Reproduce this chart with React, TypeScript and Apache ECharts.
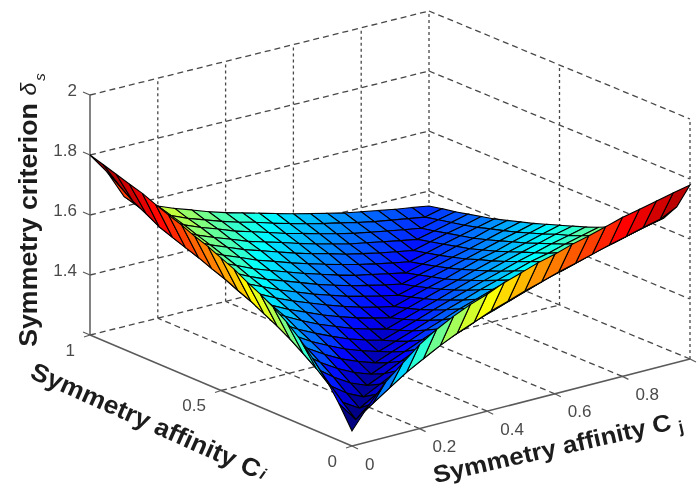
import React, { useEffect, useRef } from "react";
import * as echarts from "echarts";

// Surface heights. Row m holds z where the larger affinity is m/20
// and the smaller is k/20 (k = 0..m); the front right edge is k = 0.
const surfaceByLarger: number[][] = [
  [1.25],
  [1.322, 1.255],
  [1.385, 1.294, 1.26],
  [1.433, 1.332, 1.292, 1.265],
  [1.48, 1.369, 1.327, 1.293, 1.27],
  [1.516, 1.4, 1.357, 1.323, 1.295, 1.275],
  [1.545, 1.43, 1.386, 1.352, 1.322, 1.299, 1.28],
  [1.57, 1.456, 1.41, 1.376, 1.348, 1.322, 1.302, 1.285],
  [1.59, 1.478, 1.431, 1.398, 1.371, 1.346, 1.323, 1.305, 1.29],
  [1.614, 1.501, 1.455, 1.423, 1.394, 1.368, 1.346, 1.325, 1.309, 1.295],
  [1.632, 1.519, 1.473, 1.441, 1.413, 1.39, 1.366, 1.346, 1.328, 1.313, 1.3],
  [1.651, 1.539, 1.492, 1.461, 1.433, 1.409, 1.388, 1.367, 1.348, 1.331, 1.317, 1.305],
  [1.665, 1.555, 1.511, 1.477, 1.452, 1.427, 1.406, 1.385, 1.367, 1.349, 1.335, 1.322, 1.31],
  [1.683, 1.573, 1.532, 1.495, 1.468, 1.444, 1.425, 1.405, 1.385, 1.368, 1.352, 1.339, 1.326, 1.315],
  [1.697, 1.588, 1.546, 1.51, 1.486, 1.461, 1.441, 1.422, 1.403, 1.386, 1.369, 1.354, 1.343, 1.331, 1.32],
  [1.713, 1.604, 1.562, 1.527, 1.502, 1.48, 1.457, 1.439, 1.42, 1.403, 1.387, 1.372, 1.358, 1.346, 1.335, 1.325],
  [1.73, 1.62, 1.58, 1.544, 1.518, 1.496, 1.474, 1.456, 1.438, 1.42, 1.404, 1.39, 1.374, 1.362, 1.35, 1.34, 1.33],
  [1.742, 1.634, 1.593, 1.559, 1.532, 1.51, 1.49, 1.469, 1.453, 1.437, 1.42, 1.404, 1.39, 1.376, 1.366, 1.355, 1.345, 1.335],
  [1.755, 1.649, 1.608, 1.574, 1.548, 1.525, 1.506, 1.485, 1.469, 1.452, 1.435, 1.421, 1.406, 1.392, 1.379, 1.369, 1.359, 1.349, 1.34],
  [1.768, 1.662, 1.622, 1.588, 1.561, 1.537, 1.518, 1.499, 1.482, 1.468, 1.451, 1.436, 1.421, 1.408, 1.396, 1.383, 1.372, 1.363, 1.354, 1.345],
  [1.78, 1.69, 1.634, 1.599, 1.574, 1.552, 1.533, 1.513, 1.496, 1.481, 1.466, 1.451, 1.436, 1.423, 1.41, 1.397, 1.387, 1.377, 1.367, 1.359, 1.35],
];
// The left front edge (Cj = 0), for Ci = 0/20 .. 20/20, rises a little higher than the right one.
const leftEdge: number[] = [1.25, 1.323, 1.387, 1.436, 1.484, 1.521, 1.551, 1.577, 1.598, 1.623, 1.642, 1.662, 1.677, 1.696, 1.711, 1.728, 1.746, 1.759, 1.773, 1.787, 1.8];
// The second row on that side (Cj = 1/20) stays close to the edge near the corner, Ci = 17/20 .. 20/20.
const leftInnerNearCorner: number[] = [1.645, 1.668, 1.7, 1.73];

const zTicks = [1.2, 1.4, 1.6, 1.8, 2];
const zTickLabels = ["", "1.4", "1.6", "1.8", "2"];
const ciTicks = [0, 0.5, 1];
const ciTickLabels = ["0", "0.5", "1"];
const cjTicks = [0, 0.2, 0.4, 0.6, 0.8, 1];
const cjTickLabels = ["0", "0.2", "0.4", "0.6", "0.8", ""];
const zMin = 1.2;
const zMax = 2;
const colourMin = 1.25;
const colourMax = 1.8;
const cells = 20;

const zAt = (i: number, j: number) => {
  if (j === 0) return leftEdge[i];
  if (j === 1 && i >= 17) return leftInnerNearCorner[i - 17];
  return i <= j ? surfaceByLarger[j][i] : surfaceByLarger[i][j];
};

// 3-D view of the box onto the page
const project = (ci: number, cj: number, z: number): [number, number] => [
  352 + 338 * cj - 262 * ci + ci * cj,
  446 - 87 * cj - 111 * ci + 3 * ci * cj - (z - zMin) * 300,
];

const clamp = (v: number) => Math.max(0, Math.min(1, v));
const jet = (z: number) => {
  const c = clamp((z - colourMin) / (colourMax - colourMin));
  const r = clamp(Math.min(4 * c - 1.5, -4 * c + 4.5));
  const g = clamp(Math.min(4 * c - 0.5, -4 * c + 3.5));
  const b = clamp(Math.min(4 * c + 0.5, -4 * c + 2.5));
  return `rgb(${Math.round(r * 255)},${Math.round(g * 255)},${Math.round(b * 255)})`;
};

type Seg = { a: [number, number, number]; b: [number, number, number] };
const wallsH: Seg[] = [];
const wallsV: Seg[] = [];
zTicks.forEach((z) => {
  if (z > zMin) {
    wallsH.push({ a: [1, 0, z], b: [1, 1, z] });
    wallsH.push({ a: [1, 1, z], b: [0, 1, z] });
  }
});
cjTicks.forEach((cj) => {
  if (cj > 0) wallsV.push({ a: [1, cj, zMin], b: [1, cj, zMax] });
  if (cj > 0) wallsH.push({ a: [0, cj, zMin], b: [1, cj, zMin] });
});
ciTicks.forEach((ci) => {
  if (ci < 1) wallsV.push({ a: [ci, 1, zMin], b: [ci, 1, zMax] });
  if (ci > 0) wallsH.push({ a: [ci, 0, zMin], b: [ci, 1, zMin] });
});
const axesLines: Seg[] = [
  { a: [1, 0, zMin], b: [1, 0, zMax] },
  { a: [0, 0, zMin], b: [1, 0, zMin] },
  { a: [0, 0, zMin], b: [0, 1, zMin] },
];

const FONT = '"Liberation Sans", Arial, sans-serif';
const LABEL = "#4a4a4a";
const TITLE = "#1c1c1c";

const segSeries = (segs: Seg[], stroke: string, width: number, dash: number[] | null, z: number) => ({
  type: "custom",
  silent: true,
  clip: false,
  z,
  data: segs.map((_, k) => [k, k]),
  renderItem: (params: any, api: any) => {
    const s = segs[params.dataIndex];
    const p = api.coord(project(...s.a));
    const q = api.coord(project(...s.b));
    return {
      type: "line",
      shape: { x1: p[0], y1: p[1], x2: q[0], y2: q[1] },
      style: { stroke, lineWidth: width, lineDash: dash, fill: null },
    };
  },
});

type Tick = { p: [number, number]; dx: number; dy: number; label: string; lx: number; ly: number; align: string };
const tickMarks: Tick[] = [
  ...zTicks.map((z, k) => ({ p: project(1, 0, z), dx: -7, dy: -3, label: zTickLabels[k], lx: -13, ly: -4.5, align: "right" })),
  ...ciTicks.map((c, k) => ({ p: project(c, 0, zMin), dx: -6, dy: 2, label: ciTickLabels[k], lx: -15, ly: 15, align: "right" })),
  ...cjTicks.map((c, k) => ({ p: project(0, c, zMin), dx: 6, dy: 3, label: cjTickLabels[k], lx: 13, ly: 18, align: "left" })),
];

const surfaceCells: number[][] = [];
for (let i = 0; i < cells; i++) for (let j = 0; j < cells; j++) surfaceCells.push([i, j]);
surfaceCells.sort((m, n) => 338 * n[0] + 262 * n[1] - (338 * m[0] + 262 * m[1]));

export default function App() {
  const ref = useRef<HTMLDivElement>(null);
  useEffect(() => {
    const chart = echarts.init(ref.current!, undefined, { renderer: "svg" });
    chart.setOption({
      animation: false,
      backgroundColor: "#fff",
      grid: { left: 0, right: 0, top: 0, bottom: 0 },
      xAxis: { type: "value", min: 0, max: 700, show: false },
      yAxis: { type: "value", min: 0, max: 489, inverse: true, show: false },
      series: [
        segSeries(wallsH, "#484848", 1.3, [6, 4], 1),
        segSeries(wallsV, "#484848", 1.3, [3, 3], 1),
        segSeries(axesLines, "#5a5a5a", 1.5, null, 2),
        {
          type: "custom",
          silent: true,
          clip: false,
          z: 3,
          data: tickMarks.map((_, k) => [k, k]),
          renderItem: (params: any, api: any) => {
            const t = tickMarks[params.dataIndex];
            const p = api.coord(t.p);
            return {
              type: "group",
              children: [
                {
                  type: "line",
                  shape: { x1: p[0], y1: p[1], x2: p[0] + t.dx, y2: p[1] + t.dy },
                  style: { stroke: "#5a5a5a", lineWidth: 1.2 },
                },
                {
                  type: "text",
                  x: p[0] + t.lx,
                  y: p[1] + t.ly,
                  style: {
                    text: t.label,
                    fill: LABEL,
                    font: `17px ${FONT}`,
                    align: t.align,
                    verticalAlign: "middle",
                  },
                },
              ],
            };
          },
        },
        {
          type: "custom",
          silent: true,
          clip: false,
          progressive: 0,
          z: 4,
          data: surfaceCells,
          renderItem: (_: any, api: any) => {
            const i = api.value(0);
            const j = api.value(1);
            const corner = (a: number, b: number) =>
              api.coord(project(a / cells, b / cells, zAt(a, b)));
            return {
              type: "polygon",
              shape: { points: [corner(i, j), corner(i + 1, j), corner(i + 1, j + 1), corner(i, j + 1)] },
              style: { fill: jet(zAt(i, j)), stroke: "#000", lineWidth: 1.1 },
            };
          },
        },
      ],
      graphic: [
        {
          type: "text",
          x: 28,
          y: 225,
          scaleX: 1.07,
          rotation: Math.PI / 2,
          style: { text: "Symmetry criterion", font: `bold 25px ${FONT}`, fill: TITLE, align: "center", verticalAlign: "middle" },
        },
        {
          type: "text",
          x: 28,
          y: 89,
          rotation: Math.PI / 2,
          style: { text: "δ", font: `italic 23px ${FONT}`, fill: TITLE, align: "center", verticalAlign: "middle" },
        },
        {
          type: "text",
          x: 39,
          y: 77,
          rotation: Math.PI / 2,
          style: { text: "s", font: `italic 15px ${FONT}`, fill: TITLE, align: "center", verticalAlign: "middle" },
        },
        {
          type: "text",
          x: 146,
          y: 420,
          scaleX: 1.06,
          rotation: (-24 * Math.PI) / 180,
          style: { text: "Symmetry affinity C", font: `bold 25px ${FONT}`, fill: TITLE, align: "center", verticalAlign: "middle" },
        },
        {
          type: "text",
          x: 263,
          y: 474,
          rotation: (-24 * Math.PI) / 180,
          style: { text: "i", font: `italic bold 16px ${FONT}`, fill: TITLE, align: "center", verticalAlign: "middle" },
        },
        {
          type: "text",
          x: 552,
          y: 448,
          scaleX: 1.08,
          rotation: (12.7 * Math.PI) / 180,
          style: { text: "Symmetry affinity C", font: `bold 24px ${FONT}`, fill: TITLE, align: "center", verticalAlign: "middle" },
        },
        {
          type: "text",
          x: 681,
          y: 427,
          rotation: (12.7 * Math.PI) / 180,
          style: { text: "j", font: `bold 17px ${FONT}`, fill: TITLE, align: "center", verticalAlign: "middle" },
        },
      ],
    });
    return () => chart.dispose();
  }, []);
  return (
    <div
      ref={ref}
      style={{ position: "absolute", left: 0, top: 0, width: 700, height: 489, filter: "blur(0.6px)" }}
    />
  );
}
